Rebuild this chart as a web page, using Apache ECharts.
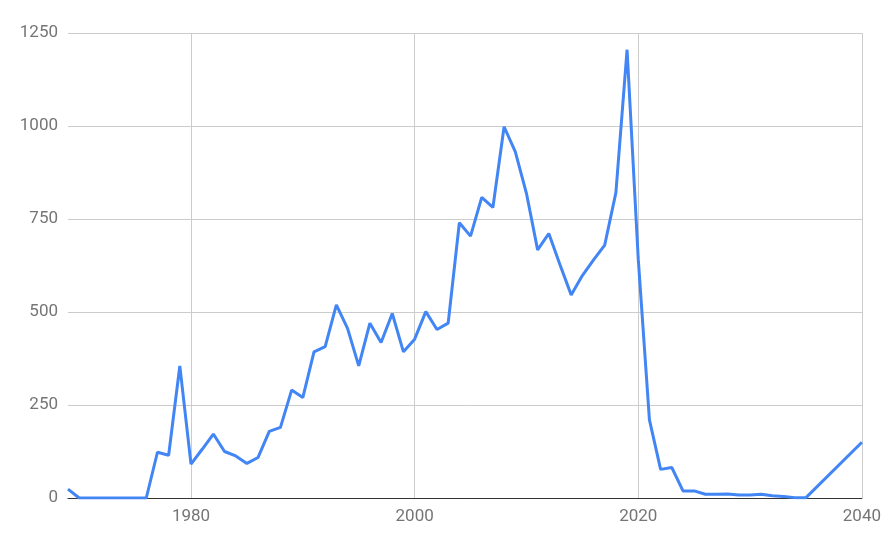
<!DOCTYPE html>
<html>
<head>
<meta charset="utf-8">
<script src="https://cdn.jsdelivr.net/npm/echarts@6/dist/echarts.min.js"></script>
<style>html,body{margin:0;padding:0;background:#fff;}#c{width:884px;height:540px;}</style>
</head>
<body>
<div id="c"></div>
<script>
const years = [1969,1970,1971,1972,1973,1974,1975,1976,1977,1978,1979,1980,1981,1982,1983,1984,1985,1986,1987,1988,1989,1990,1991,1992,1993,1994,1995,1996,1997,1998,1999,2000,2001,2002,2003,2004,2005,2006,2007,2008,2009,2010,2011,2012,2013,2014,2015,2016,2017,2018,2019,2020,2021,2022,2023,2024,2025,2026,2027,2028,2029,2030,2031,2032,2033,2034,2035,2040];
const values = [24,0,0,0,0,0,0,0,123,115,355,91,131,172,125,113,93,109,179,190,290,270,393,407,519,456,355,470,418,496,393,427,501,453,470,740,704,808,781,998,931,819,667,711,627,546,598,640,680,821,1205,642,210,77,82,19,19,10,10,11,8,8,10,6,4,1,1,150];
const xTicks = [1980, 2000, 2020, 2040];
const yTicks = [0, 250, 500, 750, 1000, 1250];

const chart = echarts.init(document.getElementById('c'), null, {renderer: 'canvas'});
chart.setOption({
  animation: false,
  grid: {left: 68, right: 22, top: 33, bottom: 42, containLabel: false},
  xAxis: {
    type: 'value', min: 1969, max: 2040,
    axisLine: {show: true, onZero: false, lineStyle: {color: '#333', width: 1}},
    axisTick: {show: false, customValues: xTicks},
    axisLabel: {customValues: xTicks, formatter: v => String(v), color: '#757575', fontSize: 17, fontFamily: 'Roboto', margin: 10},
    splitLine: {show: true, lineStyle: {color: '#cccccc', width: 1}}
  },
  yAxis: {
    type: 'value', min: 0, max: 1250, interval: 250,
    axisLine: {show: false}, axisTick: {show: false},
    axisLabel: {formatter: v => String(v), color: '#757575', fontSize: 17, fontFamily: 'Roboto', margin: 10},
    splitLine: {show: true, lineStyle: {color: '#cccccc', width: 1}}
  },
  series: [{
    type: 'line',
    data: years.map((y, i) => [y, values[i]]),
    showSymbol: false,
    symbol: 'none',
    lineStyle: {color: '#4285F4', width: 3},
    z: 3
  }]
});
</script>
</body>
</html>
